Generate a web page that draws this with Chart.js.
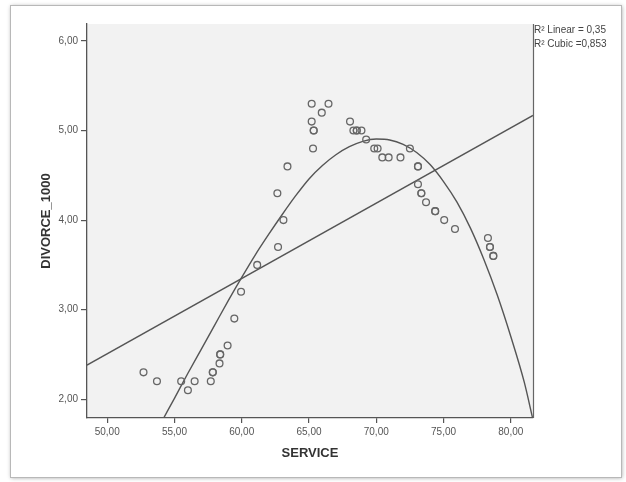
<!DOCTYPE html>
<html><head><meta charset="utf-8">
<script src="https://cdn.jsdelivr.net/npm/chart.js@4/dist/chart.umd.min.js"></script>
<style>html,body{margin:0;padding:0;background:#fff;overflow:hidden}</style>
</head><body>
<canvas id="c" width="626" height="482"></canvas>
<script>
// Observed data points (SERVICE vs DIVORCE_1000); repeated entries are overlapping cases
const serviceX = [52.7, 53.7, 55.5, 56.0, 56.5, 57.7, 57.85, 57.85, 58.35, 58.4, 58.4, 58.95, 59.45, 59.95,
  61.15, 62.65, 62.7, 63.1, 63.4, 65.2, 65.2, 65.35, 65.35, 65.3, 65.95, 66.45,
  68.05, 68.3, 68.55, 68.55, 68.9, 69.25, 69.85, 70.1, 70.45, 70.92, 71.8, 72.5,
  73.1, 73.1, 73.1, 73.35, 73.35, 73.7, 74.38, 74.38, 75.05, 75.85, 78.3, 78.45, 78.45, 78.7, 78.7];
const divorceY = [2.3, 2.2, 2.2, 2.1, 2.2, 2.2, 2.3, 2.3, 2.4, 2.5, 2.5, 2.6, 2.9, 3.2,
  3.5, 4.3, 3.7, 4.0, 4.6, 5.3, 5.1, 5.0, 5.0, 4.8, 5.2, 5.3,
  5.1, 5.0, 5.0, 5.0, 5.0, 4.9, 4.8, 4.8, 4.7, 4.7, 4.7, 4.8,
  4.6, 4.6, 4.4, 4.3, 4.3, 4.2, 4.1, 4.1, 4.0, 3.9, 3.8, 3.7, 3.7, 3.6, 3.6];
// Fit lines
const linearX = [48.5, 81.65];
const linearY = [2.38, 5.17];
const cubicX = [54.2, 55, 56, 57, 58, 59, 60, 61, 62, 63, 64, 65, 66, 67, 68, 69, 70, 71, 72, 73, 74, 75, 76, 77, 78, 79, 80, 81, 81.62];
const cubicY = [1.79, 2.01, 2.29, 2.56, 2.83, 3.10, 3.36, 3.61, 3.84, 4.06, 4.27, 4.46, 4.61, 4.73, 4.82, 4.88, 4.905, 4.895, 4.845, 4.755, 4.62, 4.43, 4.20, 3.91, 3.56, 3.16, 2.70, 2.19, 1.79];
const xTicks = [50, 55, 60, 65, 70, 75, 80];
const yTicks = [2, 3, 4, 5, 6];
const rsqLabels = ['R\u00b2 Linear = 0,35', 'R\u00b2 Cubic =0,853'];
const xTitle = 'SERVICE';
const yTitle = 'DIVORCE_1000';

const FONT = "'Liberation Sans', Arial, sans-serif";
const toPts = (xs, ys) => xs.map((x, i) => ({x: x, y: ys[i]}));
const fmt = v => Number(v).toFixed(2).replace('.', ',');

const framePlugin = {
  id: 'frame',
  beforeDraw(chart) {
    const {ctx, chartArea: a} = chart;
    ctx.save();
    ctx.fillStyle = '#ffffff';
    ctx.fillRect(0, 0, chart.width, chart.height);
    ctx.shadowColor = 'rgba(0,0,0,0.35)';
    ctx.shadowBlur = 4;
    ctx.shadowOffsetX = 1;
    ctx.shadowOffsetY = 1;
    ctx.fillStyle = '#ffffff';
    ctx.fillRect(10, 5, 611, 472);
    ctx.shadowColor = 'transparent';
    ctx.strokeStyle = '#b8b8b8';
    ctx.lineWidth = 1;
    ctx.strokeRect(10.5, 5.5, 611, 472);
    ctx.fillStyle = '#f2f2f2';
    ctx.fillRect(a.left, a.top, a.right - a.left, a.bottom - a.top);
    ctx.restore();
  },
  afterDraw(chart) {
    const {ctx, chartArea: a} = chart;
    ctx.save();
    ctx.strokeStyle = '#666';
    ctx.lineWidth = 1.2;
    ctx.beginPath();
    ctx.moveTo(a.right + 0.5, a.top);
    ctx.lineTo(a.right + 0.5, a.bottom);
    ctx.stroke();
    ctx.fillStyle = '#444';
    ctx.font = '10px ' + FONT;
    ctx.textBaseline = 'middle';
    ctx.textAlign = 'left';
    ctx.fillText(rsqLabels[0], a.right + 1, 30);
    ctx.fillText(rsqLabels[1], a.right + 1, 44);
    ctx.restore();
  }
};

new Chart(document.getElementById('c'), {
  type: 'scatter',
  data: {
    datasets: [
      {
        label: 'points',
        data: toPts(serviceX, divorceY),
        pointStyle: 'circle',
        pointRadius: 3.4,
        borderWidth: 1.3,
        borderColor: '#666666',
        backgroundColor: 'rgba(0,0,0,0)'
      },
      {
        label: 'linear',
        data: toPts(linearX, linearY),
        showLine: true,
        pointRadius: 0,
        borderColor: '#555555',
        borderWidth: 1.4,
        fill: false
      },
      {
        label: 'cubic',
        data: toPts(cubicX, cubicY),
        showLine: true,
        pointRadius: 0,
        borderColor: '#555555',
        borderWidth: 1.4,
        cubicInterpolationMode: 'monotone',
        fill: false
      }
    ]
  },
  options: {
    responsive: false,
    animation: false,
    devicePixelRatio: 1,
    layout: {padding: {left: 20, right: 93, top: 24, bottom: 14}},
    plugins: {legend: {display: false}, tooltip: {enabled: false}},
    scales: {
      x: {
        type: 'linear',
        min: 48.5,
        max: 81.65,
        afterBuildTicks: s => { s.ticks = xTicks.map(v => ({value: v})); },
        afterFit: s => { s.height = 50; },
        ticks: {callback: v => fmt(v), font: {family: FONT, size: 10}, color: '#555', padding: 3, maxRotation: 0, autoSkip: false},
        grid: {drawOnChartArea: false, drawTicks: true, tickLength: 5, color: '#555', lineWidth: 1.2},
        border: {display: true, color: '#555', width: 1.3},
        title: {display: true, text: xTitle, font: {family: FONT, size: 13, weight: 'bold'}, color: '#333', padding: {top: 0, bottom: 7}}
      },
      y: {
        type: 'linear',
        min: 1.79,
        max: 6.19,
        afterBuildTicks: s => { s.ticks = yTicks.map(v => ({value: v})); },
        afterFit: s => { s.width = 67; },
        ticks: {callback: v => fmt(v), font: {family: FONT, size: 10}, color: '#555', padding: 3, autoSkip: false},
        grid: {drawOnChartArea: false, drawTicks: true, tickLength: 6, color: '#555', lineWidth: 1.2},
        border: {display: true, color: '#555', width: 1.3},
        title: {display: true, text: yTitle, font: {family: FONT, size: 13, weight: 'bold'}, color: '#333', padding: {top: 19, bottom: 0}}
      }
    }
  },
  plugins: [framePlugin]
});
</script>
</body></html>
